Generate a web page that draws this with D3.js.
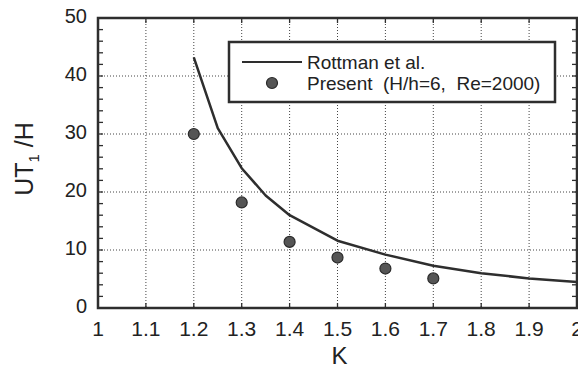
<!DOCTYPE html>
<html>
<head>
<meta charset="utf-8">
<script src="https://cdn.jsdelivr.net/npm/d3@7"></script>
<style>
  html, body { margin: 0; padding: 0; background: #fff; }
  svg { display: block; }
  text { font-family: "Liberation Sans", Arial, sans-serif; fill: #222; }
</style>
</head>
<body>
<svg id="chart" width="578" height="369"></svg>
<script>
// Rottman et al. theory curve
const rottmanK = [1.2, 1.25, 1.3, 1.35, 1.4, 1.5, 1.6, 1.7, 1.8, 1.9, 2.0];
const rottmanU = [43.2, 31.0, 24.1, 19.4, 16.0, 11.6, 9.2, 7.3, 6.0, 5.1, 4.5];

// Present simulation (H/h=6, Re=2000)
const presentK = [1.2, 1.3, 1.4, 1.5, 1.6, 1.7];
const presentU = [30.0, 18.2, 11.4, 8.7, 6.8, 5.1];

// Axis ticks
const xTicks = [1, 1.1, 1.2, 1.3, 1.4, 1.5, 1.6, 1.7, 1.8, 1.9, 2];
const xTickLabels = ["1", "1.1", "1.2", "1.3", "1.4", "1.5", "1.6", "1.7", "1.8", "1.9", "2"];
const yTicks = [0, 10, 20, 30, 40, 50];
const yMinorTicks = d3.range(0, 51, 2);

const legendLabels = ["Rottman et al.", "Present  (H/h=6,  Re=2000)"];

const svg = d3.select("#chart");
const plotLeft = 98, plotRight = 577, plotTop = 18, plotBottom = 308;

const x = d3.scaleLinear().domain([1, 2]).range([plotLeft, plotRight]);
const y = d3.scaleLinear().domain([0, 50]).range([plotBottom, plotTop]);

const ink = "#2e2e2e";

// dotted grid
const grid = svg.append("g");
grid.selectAll("line.vg")
  .data(xTicks.slice(1, -1))
  .join("line")
  .attr("x1", d => x(d)).attr("x2", d => x(d))
  .attr("y1", plotTop).attr("y2", plotBottom)
  .attr("stroke", "#444").attr("stroke-width", 1)
  .attr("stroke-dasharray", "1,2");
grid.selectAll("line.hg")
  .data(yTicks.slice(1, -1))
  .join("line")
  .attr("x1", plotLeft).attr("x2", plotRight)
  .attr("y1", d => y(d)).attr("y2", d => y(d))
  .attr("stroke", "#444").attr("stroke-width", 1)
  .attr("stroke-dasharray", "1,2");

// inward ticks on all four sides
const tickLen = 5;
const ticks = svg.append("g").attr("stroke", ink).attr("stroke-width", 1.3);
ticks.selectAll("line.yl").data(yMinorTicks).join("line")
  .attr("x1", plotLeft).attr("x2", plotLeft + tickLen)
  .attr("y1", d => y(d)).attr("y2", d => y(d));
ticks.selectAll("line.yr").data(yMinorTicks).join("line")
  .attr("x1", plotRight).attr("x2", plotRight - tickLen)
  .attr("y1", d => y(d)).attr("y2", d => y(d));
ticks.selectAll("line.xb").data(xTicks).join("line")
  .attr("x1", d => x(d)).attr("x2", d => x(d))
  .attr("y1", plotBottom).attr("y2", plotBottom - tickLen);
ticks.selectAll("line.xt").data(xTicks).join("line")
  .attr("x1", d => x(d)).attr("x2", d => x(d))
  .attr("y1", plotTop).attr("y2", plotTop + tickLen);

// frame
svg.append("rect")
  .attr("x", plotLeft).attr("y", plotTop)
  .attr("width", plotRight - plotLeft).attr("height", plotBottom - plotTop)
  .attr("fill", "none").attr("stroke", ink).attr("stroke-width", 2.5);

// tick labels
svg.append("g").selectAll("text")
  .data(yTicks).join("text")
  .attr("x", plotLeft - 11).attr("y", d => y(d) + 5)
  .attr("text-anchor", "end")
  .attr("font-size", 20)
  .text(d => d);

svg.append("g").selectAll("text")
  .data(xTicks).join("text")
  .attr("x", d => x(d)).attr("y", plotBottom + 28)
  .attr("text-anchor", "middle")
  .attr("font-size", 21)
  .text((d, i) => xTickLabels[i]);

// axis titles
svg.append("text")
  .attr("x", (plotLeft + plotRight) / 2 + 2).attr("y", 364)
  .attr("text-anchor", "middle")
  .attr("font-size", 24)
  .text("K");

const yTitle = svg.append("text")
  .attr("transform", `translate(33, ${(plotTop + plotBottom) / 2 - 4}) rotate(-90)`)
  .attr("text-anchor", "middle")
  .attr("font-size", 25);
yTitle.append("tspan").text("UT");
yTitle.append("tspan").attr("font-size", 15).attr("dy", 6).text("1");
yTitle.append("tspan").attr("dy", -6).text(" /H");

// theory curve
const line = d3.line().x(d => x(d[0])).y(d => y(d[1]));
svg.append("path")
  .datum(rottmanK.map((k, i) => [k, rottmanU[i]]))
  .attr("d", line)
  .attr("fill", "none")
  .attr("stroke", ink)
  .attr("stroke-width", 2.5)
  .attr("stroke-linejoin", "round");

// simulation points
function dot(sel) {
  sel.attr("r", 5.5)
    .attr("fill", "#555")
    .attr("stroke", "#2a2a2a")
    .attr("stroke-width", 1.2);
}
svg.append("g").selectAll("circle")
  .data(presentK.map((k, i) => [k, presentU[i]]))
  .join("circle")
  .attr("cx", d => x(d[0])).attr("cy", d => y(d[1]))
  .call(dot);

// legend
const lg = svg.append("g");
lg.append("rect")
  .attr("x", 229).attr("y", 42)
  .attr("width", 326).attr("height", 60)
  .attr("fill", "#fff").attr("stroke", ink).attr("stroke-width", 2.5);
lg.append("line")
  .attr("x1", 242).attr("x2", 302)
  .attr("y1", 62).attr("y2", 62)
  .attr("stroke", ink).attr("stroke-width", 2.2);
lg.append("circle").attr("cx", 272).attr("cy", 83).call(dot);
lg.selectAll("text").data(legendLabels).join("text")
  .attr("x", 307).attr("y", (d, i) => 69 + i * 21)
  .attr("font-size", 19)
  .style("white-space", "pre")
  .text(d => d);
</script>
</body>
</html>
